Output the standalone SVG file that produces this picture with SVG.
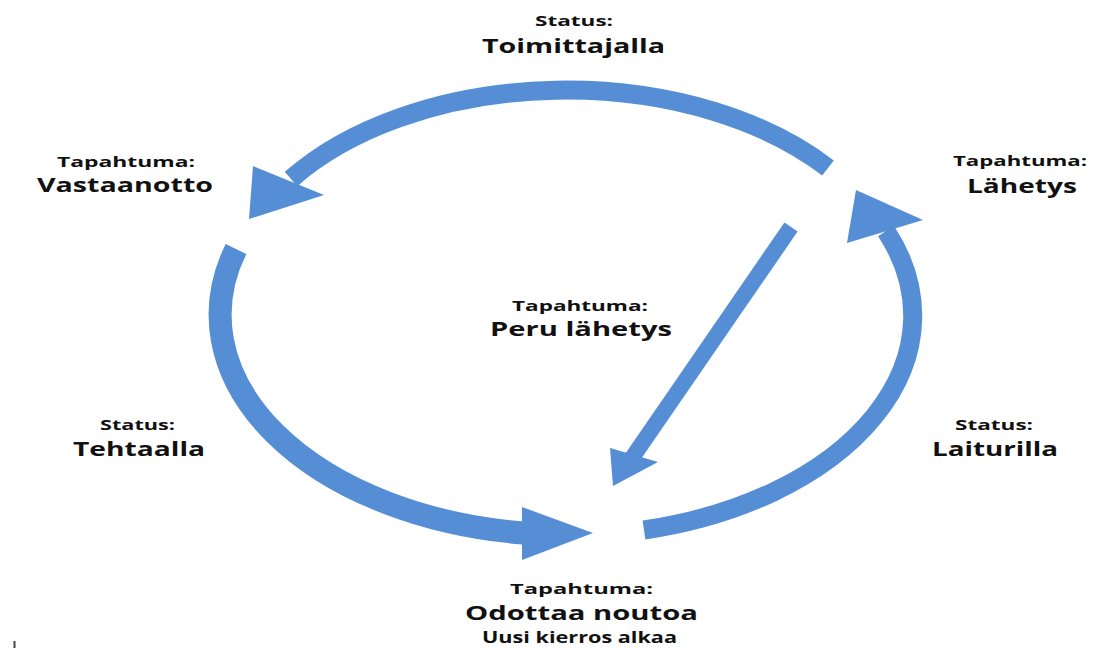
<svg xmlns="http://www.w3.org/2000/svg" width="1098" height="648" viewBox="0 0 1098 648">
<style>
.sh{fill:none;stroke:#558ED5;stroke-linecap:butt}
.hd{fill:#558ED5;stroke:none}
.s{font-family:"Open Sans","Liberation Sans",sans-serif;font-weight:bold;font-size:15px;fill:#111;text-anchor:middle}
.b{font-family:"Open Sans","Liberation Sans",sans-serif;font-weight:bold;font-size:20px;fill:#111;text-anchor:middle}
.m{font-family:"Open Sans","Liberation Sans",sans-serif;font-weight:bold;font-size:16.5px;fill:#111;text-anchor:middle}
</style>
<rect width="1098" height="648" fill="#fff"/>
<g id="connectors">
  <path class="sh" stroke-width="19" d="M 828 168 A 338 212 0 0 0 291 179"/>
  <polygon class="hd" points="249,219 253,166 324,195"/>
  <path class="sh" stroke-width="23" d="M 236 249 A 347 220 0 0 0 523 533"/>
  <polygon class="hd" points="593,533 522,507 522,560"/>
  <path class="sh" stroke-width="19" d="M 644 530 A 347 220 0 0 0 886 231"/>
  <polygon class="hd" points="856,190 923,220 847,243"/>
  <line class="sh" stroke-width="16" x1="791" y1="227" x2="632" y2="458"/>
  <polygon class="hd" points="613,486 610,448 658,462"/>
</g>
<g id="status-toimittajalla">
  <text class="s" x="574" y="26" textLength="78" lengthAdjust="spacingAndGlyphs">Status:</text>
  <text class="b" x="573.5" y="53" textLength="183" lengthAdjust="spacingAndGlyphs">Toimittajalla</text>
</g>
<g id="tapahtuma-vastaanotto">
  <text class="s" x="126" y="167" textLength="138" lengthAdjust="spacingAndGlyphs">Tapahtuma:</text>
  <text class="b" x="125" y="192" textLength="176" lengthAdjust="spacingAndGlyphs">Vastaanotto</text>
</g>
<g id="tapahtuma-lahetys">
  <text class="s" x="1020" y="166" textLength="134" lengthAdjust="spacingAndGlyphs">Tapahtuma:</text>
  <text class="b" x="1022" y="193" textLength="110" lengthAdjust="spacingAndGlyphs">Lähetys</text>
</g>
<g id="tapahtuma-peru">
  <text class="s" x="580" y="311" textLength="136" lengthAdjust="spacingAndGlyphs">Tapahtuma:</text>
  <text class="b" x="581" y="336" textLength="182" lengthAdjust="spacingAndGlyphs">Peru lähetys</text>
</g>
<g id="status-tehtaalla">
  <text class="s" x="137.5" y="430" textLength="75" lengthAdjust="spacingAndGlyphs">Status:</text>
  <text class="b" x="139" y="456" textLength="132" lengthAdjust="spacingAndGlyphs">Tehtaalla</text>
</g>
<g id="status-laiturilla">
  <text class="s" x="994" y="430" textLength="78" lengthAdjust="spacingAndGlyphs">Status:</text>
  <text class="b" x="995" y="456" textLength="126" lengthAdjust="spacingAndGlyphs">Laiturilla</text>
</g>
<g id="tapahtuma-odottaa">
  <text class="s" x="581.5" y="594" textLength="143" lengthAdjust="spacingAndGlyphs">Tapahtuma:</text>
  <text class="b" x="581.5" y="620" textLength="233" lengthAdjust="spacingAndGlyphs">Odottaa noutoa</text>
  <text class="m" x="579.5" y="643" textLength="195" lengthAdjust="spacingAndGlyphs">Uusi kierros alkaa</text>
</g>
<rect x="13.5" y="641" width="2" height="7" fill="#444"/>
</svg>
